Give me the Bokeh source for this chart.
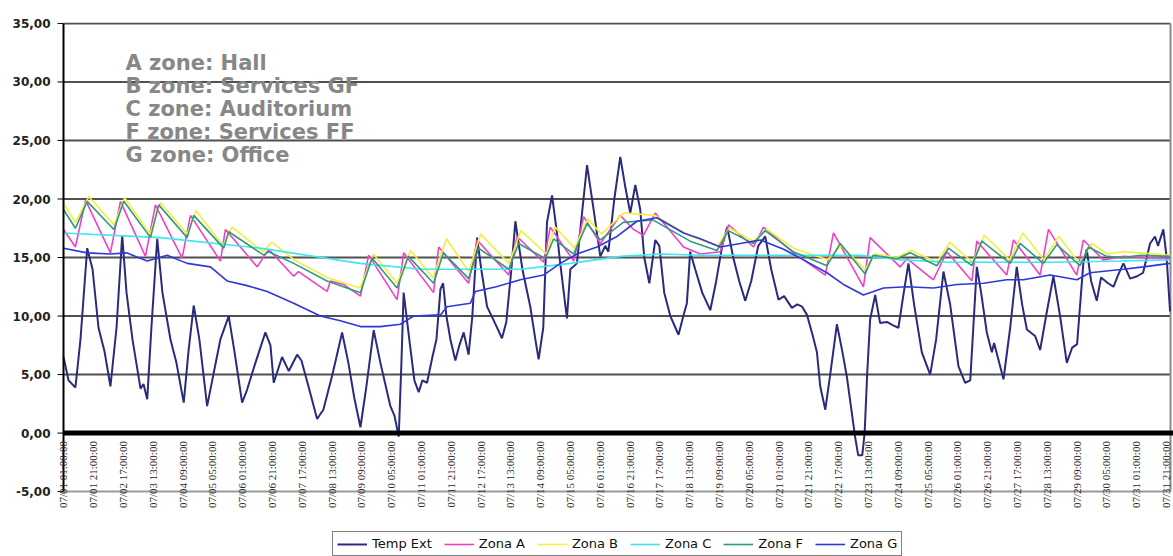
import math
from bokeh.plotting import figure
from bokeh.models import (ColumnDataSource, FixedTicker, LabelSet, Label,
                          Legend, LegendItem, Range1d)
from bokeh.embed import file_html
from bokeh.resources import INLINE

# ---------------- data (hours counted from 07/01 00:00) ----------------
tick_hours = [1, 21, 41, 61, 81, 101, 121, 141, 161, 181, 201, 221, 241, 261, 281, 301,
              321, 341, 361, 381, 401, 421, 441, 461, 481, 501, 521, 541, 561, 581, 601,
              621, 641, 661, 681, 701, 721, 741]
tick_labels = ["07/01 01:00:00", "07/01 21:00:00", "07/02 17:00:00", "07/03 13:00:00",
               "07/04 09:00:00", "07/05 05:00:00", "07/06 01:00:00", "07/06 21:00:00",
               "07/07 17:00:00", "07/08 13:00:00", "07/09 09:00:00", "07/10 05:00:00",
               "07/11 01:00:00", "07/11 21:00:00", "07/12 17:00:00", "07/13 13:00:00",
               "07/14 09:00:00", "07/15 05:00:00", "07/16 01:00:00", "07/16 21:00:00",
               "07/17 17:00:00", "07/18 13:00:00", "07/19 09:00:00", "07/20 05:00:00",
               "07/21 01:00:00", "07/21 21:00:00", "07/22 17:00:00", "07/23 13:00:00",
               "07/24 09:00:00", "07/25 05:00:00", "07/26 01:00:00", "07/26 21:00:00",
               "07/27 17:00:00", "07/28 13:00:00", "07/29 09:00:00", "07/30 05:00:00",
               "07/31 01:00:00", "07/31 21:00:00"]

y_ticks = [-5, 0, 5, 10, 15, 20, 25, 30, 35]
y_tick_labels = ["-5,00", "0,00", "5,00", "10,00", "15,00", "20,00", "25,00", "30,00", "35,00"]

zone_notes = ["A zone: Hall", "B zone: Services GF", "C zone: Auditorium",
              "F zone: Services FF", "G zone: Office"]

ext_hours = [1, 4.4, 9, 12.4, 16.9, 20.5, 24.5, 28.5, 32.5, 36.6, 40.4, 43.3, 47.3, 52.7, 54.7,
             57.2, 60, 63.9, 67.4, 72.8, 76.8, 81.7, 84.9, 88.4, 92.2, 97.4, 101.6, 106.3, 111.9,
             115.7, 120.9, 124.2, 129.8, 136.5, 139.9, 142.1, 147.7, 152.2, 157.8, 160.7, 165.4,
             171.2, 175.4, 181.5, 188, 192.2, 196.2, 200.3, 204.3, 209.2, 213.7, 220.4, 223.1,
             226, 227.8, 229.3, 233.1, 236.5, 239.4, 241.9, 245, 248.6, 251.3, 254, 255.8, 258,
             260.7, 264, 266.7, 269.6, 272.9, 275.4, 278.6, 281.4, 285.3, 290.2, 295.3, 298.2,
             301.6, 304.3, 309, 314.3, 317.7, 319.9, 323, 325.5, 328.9, 332.2, 334.4, 338.9,
             341.2, 345.6, 349.2, 352.4, 354.6, 356.8, 361.3, 364.6, 366.7, 370.7, 374.7, 378.1,
             381.4, 384.8, 388.1, 390.8, 394.2, 398.2, 400.9, 404.2, 408.3, 413.8, 417, 419.4,
             421.6, 425, 429.7, 435.1, 439.1, 443.1, 446.5, 450.5, 454.5, 458.6, 462.6, 467.3,
             472, 476, 480.9, 484.7, 489.9, 493.5, 496.8, 500, 503.5, 506.7, 508.9, 512.3,
             515.6, 520.1, 523.7, 526.8, 529.8, 532.4, 534.4, 537.1, 538.7, 540.4, 542.4, 545.8,
             549.1, 553.6, 557.8, 561.4, 564.6, 568.1, 571.9, 577.1, 582.7, 586.7, 591.6, 596.1,
             601.7, 606.2, 609.6, 614, 616.9, 620.7, 624.1, 625.6, 631.9, 636.4, 640.8, 644.4,
             647.6, 653.1, 656.5, 660.5, 665.4, 669.9, 674.4, 678, 681.3, 685.5, 687.8, 690.7,
             694.5, 697.4, 702.1, 705.7, 708.8, 712.4, 716.9, 721.6, 725.6, 730.3, 733.6, 735.6,
             739.2, 741.4, 743.7]
temp_ext = [6.5, 4.5, 3.9, 8, 15.8, 14, 9, 7, 4.0, 9, 16.9, 12, 8, 3.8, 4.2, 2.9, 9, 16.6, 12, 8,
            6, 2.6, 7, 10.9, 8, 2.3, 5, 8, 10.0, 7, 2.6, 3.7, 6, 8.6, 7.5, 4.3, 6.5, 5.3, 6.7, 6.2,
            4, 1.2, 2.0, 5, 8.6, 6, 3, 0.5, 4, 8.8, 6, 2.3, 1.5, -0.3, 6, 12.0, 8, 4.5, 3.5, 4.5,
            4.3, 6.5, 8, 12.3, 12.8, 10, 8.0, 6.2, 7.5, 8.6, 6.7, 10, 16.7, 14, 10.8, 9.5, 8.1, 9.5,
            14, 18.1, 14, 10.8, 8, 6.3, 9, 18.0, 20.3, 17.1, 14.5, 9.8, 14.0, 14.5, 19, 22.9, 21,
            19.1, 15.1, 16.0, 15.5, 20, 23.6, 21, 18.8, 21.2, 19.1, 15, 12.8, 16.5, 16, 12, 10, 8.4,
            10, 11.1, 15.5, 14, 12, 10.5, 13, 16, 17.6, 15, 13, 11.3, 13, 16, 16.8, 14, 11.4, 11.7,
            10.7, 11.0, 10.8, 10.1, 8.5, 6.9, 4, 2.0, 5, 9.3, 7, 4.8, 2, -0.4, -1.9, -1.9, 0, 5,
            9.7, 11.8, 9.4, 9.5, 9.2, 9.0, 11.7, 14.5, 11, 6.9, 5.0, 8, 13.8, 11, 5.7, 4.3, 4.5,
            14.2, 12, 8.6, 6.9, 7.7, 4.6, 9, 14.2, 11, 8.85, 8.3, 7.1, 10, 13.4, 10, 6.0, 7.3, 7.6,
            14.5, 15.7, 13, 11.3, 13.3, 12.8, 12.5, 13.5, 14.5, 13.2, 13.4, 13.7, 16.2, 16.8, 16.0,
            17.4, 15, 10.4]

a_hours = [1, 9, 15.8, 32.5, 39.2, 56, 62.7, 80.6, 86.2, 106.3, 109.7, 131, 138.7, 155.5, 158.7,
           177.9, 180.1, 188.9, 200.3, 205.8, 224.9, 229.3, 249.4, 252.8, 272.9, 278.6, 299.8,
           305.4, 323.2, 327.7, 343.4, 350.1, 361.3, 374.7, 383.6, 390.2, 398.2, 417.2, 428.4,
           441.8, 447.4, 464.1, 470.8, 491, 512.3, 517.8, 537.9, 542.4, 562.5, 567.1, 584.9,
           593.9, 610.7, 614, 634.1, 638.6, 656.5, 662.1, 681.1, 685.5, 698.9, 712.4, 725.8, 743.7]
zona_a = [17.4, 15.9, 19.9, 15.4, 19.8, 15.1, 19.5, 14.95, 18.6, 14.7, 17.4, 14.2, 15.7, 13.4,
          13.8, 12.1, 13.0, 12.7, 11.7, 15.2, 11.4, 15.4, 12.0, 15.9, 12.8, 16.5, 13.5, 16.8,
          14.6, 17.6, 14.7, 18.5, 16.2, 18.6, 17.4, 16.9, 18.8, 15.9, 15.3, 15.5, 17.8, 15.9,
          17.6, 15.4, 13.5, 17.1, 12.5, 16.7, 14.2, 14.9, 13.1, 15.5, 13.0, 16.4, 13.5, 16.5,
          13.5, 17.4, 13.5, 16.5, 14.8, 15.1, 15.0, 14.95]

b_hours = [1, 9, 18, 35, 42, 59, 66, 84, 90, 108, 114, 135, 141, 156, 178, 200, 209, 225, 234,
           249, 258, 273, 281, 300, 308, 325, 331, 344, 353, 362, 377, 398, 422, 440, 448, 464,
           473, 491, 514, 523, 539, 546, 560, 570, 587, 596, 611, 619, 636, 645, 659, 669, 683,
           691, 702, 712, 724, 744]
zona_b = [19.6, 18.0, 20.2, 17.8, 20.1, 17.0, 19.7, 17.0, 19.0, 16.0, 17.6, 15.5, 16.3, 14.8,
          13.3, 12.4, 15.3, 12.8, 15.6, 13.3, 16.6, 13.8, 17.0, 14.5, 17.3, 15.3, 17.6, 15.8,
          18.3, 17.0, 18.8, 18.6, 16.8, 16.0, 17.5, 16.4, 17.4, 15.8, 14.8, 16.0, 14.0, 15.3,
          15.0, 15.6, 14.6, 16.3, 14.6, 16.9, 14.8, 17.1, 14.8, 16.8, 14.5, 16.2, 15.3, 15.5,
          15.4, 15.2]

c_hours = [1, 66, 133, 200, 241, 274, 308, 341, 375, 402, 428, 482, 536, 563, 596, 663, 710, 744]
zona_c = [17.1, 16.7, 15.8, 14.5, 14.0, 14.0, 14.0, 14.5, 15.1, 15.3, 15.2, 15.2, 15.2, 14.8,
          14.6, 14.6, 14.7, 14.8]

f_hours = [1, 9, 16.9, 34.8, 41.5, 59.4, 64.9, 84, 88.4, 108.5, 111.9, 135.4, 138.7, 155.5,
           177.9, 200.3, 208.1, 224.9, 232.5, 249.4, 256, 272.9, 279.6, 299.8, 306.5, 324.4, 330,
           343.4, 352.4, 361.3, 376.7, 396.8, 421.6, 439.6, 447.2, 463.9, 471.9, 490.8, 513.4,
           522.3, 539.1, 544.5, 560.4, 569.3, 587.2, 595, 610.7, 617.4, 636.4, 643.1, 658.7,
           667.7, 683.3, 688.9, 701.2, 712.2, 723.6, 743.7]
zona_f = [19.1, 17.5, 19.8, 17.4, 19.8, 16.7, 19.5, 16.7, 18.6, 15.8, 17.2, 15.2, 15.5, 14.5,
          13.0, 12.0, 14.95, 12.4, 15.1, 12.8, 15.4, 13.2, 15.8, 14.0, 16.2, 14.9, 16.6, 15.3,
          17.9, 16.5, 18.0, 18.2, 16.4, 15.6, 17.3, 16.2, 17.3, 15.5, 14.3, 16.2, 13.6, 15.2,
          14.9, 15.4, 14.3, 15.8, 14.3, 16.4, 14.5, 16.2, 14.5, 16.1, 14.3, 15.9, 15.1, 15.0,
          15.2, 15.1]

g_hours = [1, 16.9, 32.5, 43.3, 57.2, 70.6, 84, 99.6, 110.8, 124.2, 137.7, 155.5, 173.4, 186.8,
           200.3, 213.7, 227.1, 236, 254, 258.4, 274.1, 277.4, 291.5, 307.6, 323.2, 334.4, 345.6,
           359.1, 372.5, 385.9, 399.3, 417.2, 428.4, 441.8, 455.3, 468.7, 484.3, 497.7, 513.4,
           524.5, 537.9, 551.4, 567.1, 584.9, 600.6, 618.5, 634.1, 645.3, 663.2, 681.1, 690,
           712.4, 725.8, 743.7]
zona_g = [15.8, 15.4, 15.3, 15.4, 14.7, 15.2, 14.5, 14.2, 13.0, 12.6, 12.1, 11.1, 10.0, 9.6, 9.1,
          9.1, 9.3, 10.0, 10.1, 10.8, 11.1, 12.1, 12.5, 13.1, 13.5, 14.5, 15.3, 15.9, 16.8, 18.1,
          18.4, 17.1, 16.6, 15.9, 16.2, 16.5, 15.7, 14.8, 13.7, 12.7, 11.8, 12.4, 12.5, 12.4,
          12.7, 12.8, 13.1, 13.1, 13.5, 13.1, 13.7, 14.0, 14.2, 14.5]

series = [
    ("Temp Ext", ext_hours, temp_ext, "#2b2b7e", 2.0),
    ("Zona A", a_hours, zona_a, "#f040c8", 1.6),
    ("Zona B", b_hours, zona_b, "#f4ee3c", 1.6),
    ("Zona C", c_hours, zona_c, "#3ee6f0", 1.6),
    ("Zona F", f_hours, zona_f, "#2f9a80", 1.6),
    ("Zona G", g_hours, zona_g, "#3037d8", 1.6),
]

# ---------------- layout geometry ----------------
W, H = 1173, 556
TOP = 22
FRAME_LEFT = 52               # frame starts a little left of the value axis line
AXIS_PX, RIGHT_EDGE_PX = 63, 1170
X_FIRST, X_LAST = 1, 744
Y_LOW, Y_HIGH = -5, 35
PLOT_BOTTOM_PX = 491          # pixel row of the -5 line
TICK_LEN_PX = 6

px_per_hour = (RIGHT_EDGE_PX - AXIS_PX) / (X_LAST - X_FIRST)
x_start = X_FIRST - (AXIS_PX - FRAME_LEFT) / px_per_hour
x_end = X_LAST + (W - RIGHT_EDGE_PX) / px_per_hour
px_per_unit = (PLOT_BOTTOM_PX - TOP) / (Y_HIGH - Y_LOW)
y_start = Y_LOW - (H - PLOT_BOTTOM_PX) / px_per_unit

p = figure(width=W, height=H, x_range=Range1d(x_start, x_end),
           y_range=Range1d(y_start, Y_HIGH + 0.08),
           output_backend="svg", toolbar_location=None,
           min_border_left=FRAME_LEFT, min_border_right=0, min_border_top=TOP,
           min_border_bottom=0)
p.background_fill_color = "white"
p.border_fill_color = "white"
p.outline_line_color = None

p.xaxis.visible = False
p.xgrid.visible = False
p.ygrid.visible = False

# value axis: labels from the Bokeh axis, line and ticks drawn at hour 1
yax = p.yaxis[0]
yax.ticker = FixedTicker(ticks=y_ticks)
yax.bounds = (Y_LOW, Y_HIGH)
yax.major_label_overrides = {t: s for t, s in zip(y_ticks, y_tick_labels)}
yax.minor_tick_line_color = None
yax.major_tick_line_color = None
yax.axis_line_color = None
yax.major_tick_out = 0
yax.major_tick_in = 0
yax.major_label_standoff = 2
yax.major_label_text_font = "DejaVu Sans"
yax.major_label_text_font_style = "bold"
yax.major_label_text_font_size = "12px"
yax.major_label_text_color = "#222222"

tick_x0 = X_FIRST - TICK_LEN_PX / px_per_hour
p.segment(x0=[tick_x0] * len(y_ticks), y0=y_ticks, x1=[X_FIRST] * len(y_ticks), y1=y_ticks,
          line_color="black", line_width=1)

# horizontal gridlines (value axis), drawn between the axis and the right border
grid_y = [t for t in y_ticks if t > 0]
p.segment(x0=[X_FIRST] * len(grid_y), y0=grid_y, x1=[X_LAST] * len(grid_y), y1=grid_y,
          line_color="#505050", line_width=2)
p.segment(x0=[X_FIRST], y0=[Y_LOW], x1=[X_LAST], y1=[Y_LOW], line_color="#9a9a9a", line_width=2)
# right border of the plot area
p.segment(x0=[X_LAST], y0=[Y_LOW], x1=[X_LAST], y1=[Y_HIGH], line_color="#8c8c8c", line_width=2)

items = []
for name, xs, ys, color, lw in series:
    n = min(len(xs), len(ys))
    src = ColumnDataSource(dict(x=xs[:n], y=ys[:n]))
    r = p.line("x", "y", source=src, line_color=color, line_width=lw)
    items.append(LegendItem(label=name, renderers=[r]))

# value axis line
p.segment(x0=[X_FIRST], y0=[Y_LOW], x1=[X_FIRST], y1=[Y_HIGH], line_color="black", line_width=2)
# thick category axis line at zero
p.segment(x0=[X_FIRST], y0=[0], x1=[x_end], y1=[0], line_color="black", line_width=5)

# category labels hanging from the zero line
lab_src = ColumnDataSource(dict(x=tick_hours, y=[0] * len(tick_hours), text=tick_labels))
p.add_layout(LabelSet(x="x", y="y", text="text", source=lab_src, angle=math.pi / 2,
                      text_align="right", text_baseline="middle", y_offset=-8,
                      text_font="DejaVu Sans", text_font_size="11px", text_color="#2a2a2a"))

# zone notes
frame_h = H - TOP
for i, note in enumerate(zone_notes):
    p.add_layout(Label(x=125 - FRAME_LEFT, y=frame_h - 40 - 23 * i, x_units="screen",
                       y_units="screen", text=note, text_baseline="middle",
                       text_font="DejaVu Sans", text_font_style="bold",
                       text_font_size="21px", text_color="#878787"))

legend = Legend(items=items, orientation="horizontal", location=(332 - FRAME_LEFT, 0),
                glyph_width=30, glyph_height=14, label_height=14, label_standoff=5,
                spacing=12, padding=4, margin=0, border_line_color="black",
                border_line_width=1, label_text_font="DejaVu Sans",
                label_text_font_size="13px", label_text_color="#111111",
                background_fill_color="white", background_fill_alpha=1.0)
p.add_layout(legend)

open("out.html", "w").write(file_html(p, INLINE))
